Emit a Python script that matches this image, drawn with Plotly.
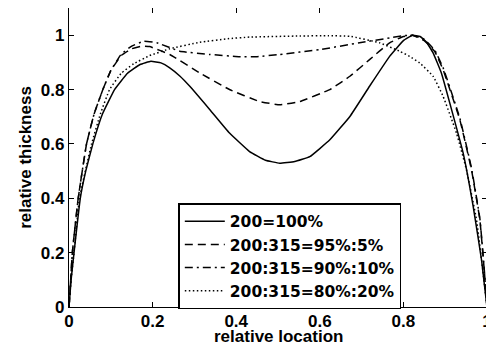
import plotly.graph_objects as go

# series data
names = ["200=100%", "200:315=95%:5%", "200:315=90%:10%", "200:315=80%:20%"]

x_solid = [0, 0.005, 0.012, 0.027, 0.04, 0.057, 0.08, 0.109, 0.14, 0.17, 0.196, 0.22, 0.241, 0.265, 0.289, 0.337, 0.384, 0.432, 0.47, 0.504, 0.54, 0.576, 0.624, 0.672, 0.719, 0.767, 0.80, 0.822, 0.84, 0.855, 0.871, 0.891, 0.911, 0.943, 0.967, 0.987, 1.0]
y_solid = [0, 0.1, 0.2, 0.4, 0.5, 0.6, 0.71, 0.8, 0.86, 0.892, 0.904, 0.898, 0.88, 0.85, 0.812, 0.726, 0.64, 0.572, 0.54, 0.529, 0.535, 0.553, 0.615, 0.701, 0.812, 0.922, 0.98, 1.0, 0.995, 0.975, 0.935, 0.86, 0.75, 0.566, 0.369, 0.172, 0]

x_dash = [0, 0.004, 0.008, 0.022, 0.042, 0.06, 0.081, 0.1, 0.125, 0.15, 0.175, 0.193, 0.241, 0.313, 0.384, 0.456, 0.504, 0.552, 0.624, 0.672, 0.719, 0.767, 0.80, 0.822, 0.85, 0.875, 0.895, 0.935, 0.963, 0.983, 0.994, 1.0]
y_dash = [0, 0.1, 0.2, 0.4, 0.6, 0.71, 0.8, 0.87, 0.925, 0.95, 0.96, 0.958, 0.929, 0.861, 0.80, 0.756, 0.744, 0.756, 0.80, 0.849, 0.91, 0.972, 0.995, 1.0, 0.98, 0.94, 0.873, 0.689, 0.504, 0.32, 0.124, 0]

x_dashdot = [0, 0.004, 0.008, 0.022, 0.042, 0.06, 0.081, 0.1, 0.125, 0.15, 0.18, 0.21, 0.265, 0.337, 0.408, 0.45, 0.504, 0.6, 0.695, 0.767, 0.80, 0.822, 0.85, 0.875, 0.895, 0.935, 0.963, 0.983, 0.994, 1.0]
y_dashdot = [0, 0.1, 0.2, 0.4, 0.6, 0.71, 0.8, 0.87, 0.93, 0.96, 0.978, 0.972, 0.941, 0.929, 0.921, 0.921, 0.929, 0.947, 0.972, 0.99, 0.998, 1.0, 0.985, 0.945, 0.88, 0.695, 0.51, 0.325, 0.128, 0]

x_dot = [0, 0.005, 0.012, 0.025, 0.054, 0.075, 0.097, 0.125, 0.155, 0.193, 0.241, 0.313, 0.38, 0.432, 0.552, 0.62, 0.672, 0.743, 0.791, 0.815, 0.839, 0.871, 0.895, 0.927, 0.951, 0.975, 0.99, 1.0]
y_dot = [0, 0.1, 0.2, 0.4, 0.6, 0.71, 0.8, 0.86, 0.895, 0.925, 0.95, 0.974, 0.987, 0.993, 0.997, 0.998, 0.996, 0.972, 0.941, 0.922, 0.898, 0.849, 0.775, 0.64, 0.504, 0.32, 0.135, 0]

tick_vals = [0, 0.2, 0.4, 0.6, 0.8, 1]
tick_text = ["0", "0.2", "0.4", "0.6", "0.8", "1"]

series = [
    (x_solid, y_solid, "solid"),
    (x_dash, y_dash, "8px,5px"),
    (x_dashdot, y_dashdot, "8px,4px,2px,4px"),
    (x_dot, y_dot, "1.5px,2.5px"),
]

fig = go.Figure()
for i, (xs, ys, dash) in enumerate(series):
    fig.add_trace(go.Scatter(
        x=xs, y=ys, mode="lines", name=names[i], legendgroup=str(i),
        line=dict(color="black", width=1.5, dash=dash, shape="spline", smoothing=0.3),
    ))

fam = "Liberation Sans, Arial, sans-serif"
font = dict(family=fam, size=17, color="black")

axis_common = dict(
    showgrid=False, zeroline=False, showline=True, linecolor="black", linewidth=1.2,
    mirror="ticks", ticks="inside", ticklen=5, tickcolor="black", tickwidth=1,
    tickvals=tick_vals, ticktext=tick_text, automargin=False,
    tickfont=dict(family=fam, size=17, color="black", weight="bold"),
)

# the page body adds an 8px margin, so the figure is 16px smaller than the window
fig.update_layout(
    width=486, height=344,
    margin=dict(l=61, r=7, t=0, b=45),
    paper_bgcolor="white", plot_bgcolor="white",
    font=font,
    showlegend=True,
    legend=dict(
        x=0.2615, y=0.347, xanchor="left", yanchor="top",
        bgcolor="white", bordercolor="black", borderwidth=1.5,
        font=dict(family="DejaVu Sans, sans-serif", size=15.5, color="black", weight="bold"),
        tracegroupgap=0, itemwidth=40,
    ),
    xaxis=dict(range=[0, 1], ticklabelstandoff=-2, **axis_common),
    yaxis=dict(range=[0, 1.1], title=dict(text="relative thickness", standoff=4, font=dict(size=17, weight="bold")), **axis_common),
    annotations=[dict(
        text="relative location", xref="paper", yref="paper", x=0.5, y=-0.1,
        xanchor="center", yanchor="middle", showarrow=False,
        font=dict(family=fam, size=17, color="black", weight="bold"),
    )],
)

fig.write_html("out.html")
